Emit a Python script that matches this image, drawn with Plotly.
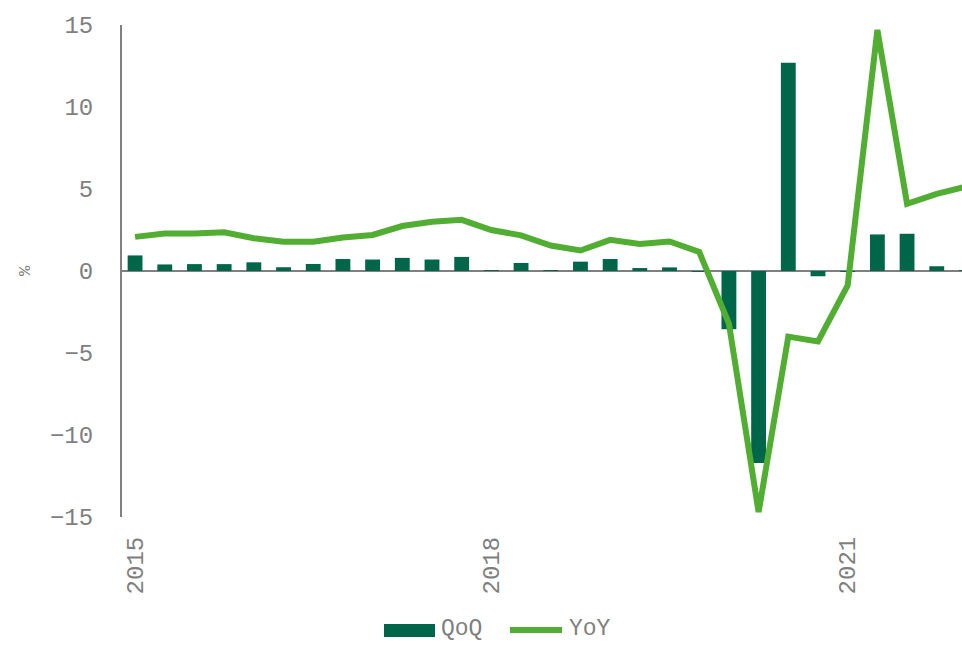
import plotly.graph_objects as go

quarters = [f"{y}Q{q}" for y in range(2015, 2023) for q in range(1, 5)][:29]

qoq = [0.95, 0.40, 0.42, 0.42, 0.53, 0.23, 0.43, 0.73, 0.70, 0.80, 0.70, 0.86,
       0.05, 0.49, 0.02, 0.57, 0.73, 0.18, 0.22, -0.05, -3.55, -11.7, 12.7, -0.32,
       -0.05, 2.23, 2.27, 0.29, 0.05]

yoy = [2.08, 2.29, 2.29, 2.36, 2.0, 1.78, 1.78, 2.04, 2.2, 2.74, 3.0, 3.12,
       2.5, 2.17, 1.55, 1.25, 1.9, 1.65, 1.8, 1.16, -3.2, -14.7, -4.0, -4.29,
       -0.88, 14.7, 4.1, 4.7, 5.15]

tick_vals = ["2015Q1", "2018Q1", "2021Q1"]
tick_text = ["2015", "2018", "2021"]

FONT = "Liberation Mono, monospace"
GRAY = "#7f7f7f"
BAR_C = "#00664A"
LINE_C = "#52AE32"

fig = go.Figure()
fig.add_trace(go.Bar(x=quarters, y=qoq, name="QoQ", marker_color=BAR_C,
                     marker_line_width=0, width=0.5))
fig.add_trace(go.Scatter(x=quarters, y=yoy, name="YoY", mode="lines",
                         line=dict(color=LINE_C, width=6)))

L, R, T, B = 122, 962, 25, 517
def px(x):
    return (x - L) / (R - L)
def py(y):
    return (B - y) / (B - T)

# manual legend (wide swatches as in the reference)
fig.add_shape(type="rect", xref="paper", yref="paper",
              x0=px(384), x1=px(435), y0=py(637), y1=py(624),
              fillcolor=BAR_C, line_width=0)
fig.add_shape(type="line", xref="paper", yref="paper",
              x0=px(510), x1=px(562), y0=py(630), y1=py(630),
              line=dict(color=LINE_C, width=6))
fig.add_annotation(text="QoQ", xref="paper", yref="paper", x=px(440), y=py(629),
                   xanchor="left", yanchor="middle", showarrow=False, borderpad=0,
                   font=dict(family=FONT, size=23, color=GRAY))
fig.add_annotation(text="YoY", xref="paper", yref="paper", x=px(568), y=py(629),
                   xanchor="left", yanchor="middle", showarrow=False, borderpad=0,
                   font=dict(family=FONT, size=23, color=GRAY))

fig.update_layout(
    width=962, height=645,
    margin=dict(l=L, r=962 - R, t=T, b=645 - B),
    plot_bgcolor="white", paper_bgcolor="white",
    font=dict(family=FONT, color=GRAY, size=24),
    showlegend=False,
    bargap=0.5,
)
fig.update_xaxes(type="category", range=[-0.44, 27.85], tickmode="array",
                 tickvals=tick_vals, ticktext=tick_text, tickangle=-90,
                 showgrid=False, showline=False, zeroline=False, ticks="",
                 ticklabelstandoff=14,
                 tickfont=dict(size=24, color=GRAY))
fig.update_yaxes(range=[-15, 15], tickvals=[-15, -10, -5, 0, 5, 10, 15],
                 showgrid=False, showline=True, linecolor="#808080", linewidth=2,
                 zeroline=True, zerolinecolor="#808080", zerolinewidth=2,
                 ticks="", ticklabelstandoff=22,
                 title=dict(text="%", font=dict(size=17, color=GRAY), standoff=15),
                 tickfont=dict(size=24, color=GRAY))

fig.write_html("out.html")
